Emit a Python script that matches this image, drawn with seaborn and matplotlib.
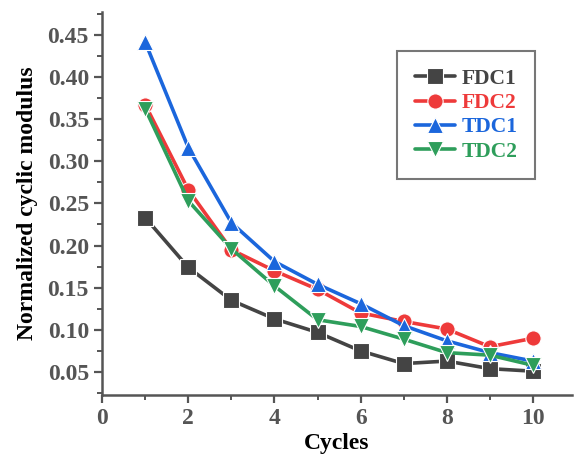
import matplotlib
matplotlib.use("Agg")
import matplotlib.pyplot as plt
import seaborn as sns
import pandas as pd
from matplotlib.ticker import MultipleLocator
from matplotlib.lines import Line2D

cycles = [1, 2, 3, 4, 5, 6, 7, 8, 9, 10]
fdc1 = [0.233, 0.174, 0.135, 0.113, 0.097, 0.075, 0.060, 0.063, 0.054, 0.051]
fdc2 = [0.367, 0.266, 0.195, 0.170, 0.148, 0.120, 0.110, 0.101, 0.080, 0.090]
tdc1 = [0.441, 0.316, 0.227, 0.181, 0.154, 0.131, 0.105, 0.087, 0.073, 0.063]
tdc2 = [0.362, 0.253, 0.196, 0.152, 0.112, 0.104, 0.089, 0.073, 0.070, 0.058]
series_names = ["FDC1", "FDC2", "TDC1", "TDC2"]

colors = {"FDC1": "#444444", "FDC2": "#EE3A3A", "TDC1": "#1B66DC", "TDC2": "#2E9E5B"}
markers = {"FDC1": "s", "FDC2": "o", "TDC1": "^", "TDC2": "v"}

rows = []
for name, vals in zip(series_names, [fdc1, fdc2, tdc1, tdc2]):
    for c, v in zip(cycles, vals):
        rows.append({"Cycles": c, "value": v, "series": name})
df = pd.DataFrame(rows)

sns.set_style("white")
plt.rcParams['font.family'] = ['Liberation Serif', 'DejaVu Serif']
plt.rcParams['font.weight'] = 'bold'

fig = plt.figure(figsize=(5.74, 4.58), dpi=100)
ax = fig.add_axes([0.178, 0.138, 0.818, 0.836])

sns.lineplot(data=df, x="Cycles", y="value", hue="series", style="series",
             markers=markers, dashes=False, palette=colors, ax=ax,
             linewidth=2.6, markersize=11, markeredgecolor="white",
             markeredgewidth=0.8, legend=False)

ax.set_xlim(0, 10.9)
ax.set_ylim(0.023, 0.477)
ax.xaxis.set_major_locator(MultipleLocator(2))
ax.xaxis.set_minor_locator(MultipleLocator(1))
ax.yaxis.set_minor_locator(MultipleLocator(0.025))
yt = [0.05, 0.10, 0.15, 0.20, 0.25, 0.30, 0.35, 0.40, 0.45]
ax.set_yticks(yt)
ax.set_yticklabels([f"{v:.2f}" for v in yt])

for s in ["top", "right"]:
    ax.spines[s].set_visible(False)
for s in ["left", "bottom"]:
    ax.spines[s].set_color("#555555")
    ax.spines[s].set_linewidth(1.8)

ax.tick_params(axis="both", which="major", direction="out", length=6, width=1.6,
               color="#555555", labelsize=17, labelcolor="#555555", bottom=True, left=True)
ax.tick_params(axis="both", which="minor", direction="out", length=3.5, width=1.4,
               color="#555555", bottom=True, left=True)
for lab in ax.get_xticklabels() + ax.get_yticklabels():
    lab.set_fontweight("bold")

ax.set_xlabel("Cycles", fontsize=17, fontweight="bold", color="black", labelpad=3)
ax.set_ylabel("Normalized cyclic modulus", fontsize=17, fontweight="bold", color="black", labelpad=7)

handles = [Line2D([0], [0], color=colors[n], marker=markers[n], linewidth=2.6,
                  markersize=11, markeredgecolor="white", markeredgewidth=0.8)
           for n in series_names]
leg = ax.legend(handles, series_names, loc="upper right", bbox_to_anchor=(0.945, 0.925),
                frameon=True, fancybox=False, edgecolor="#555555", fontsize=15.5,
                handlelength=1.9, labelspacing=0.2, borderpad=0.8, handletextpad=0.3)
leg.get_frame().set_linewidth(1.5)
for txt, n in zip(leg.get_texts(), series_names):
    txt.set_color(colors[n])
    txt.set_fontweight("bold")

fig.savefig("out.png", dpi=100)
